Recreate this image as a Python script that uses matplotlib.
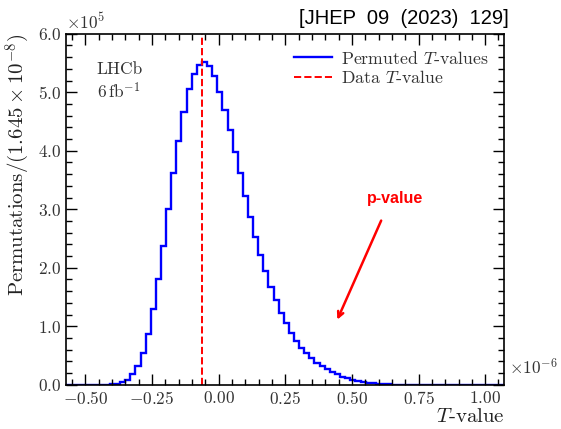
import numpy as np
import matplotlib
matplotlib.use("Agg")
import matplotlib.pyplot as plt
from matplotlib.ticker import MultipleLocator, FuncFormatter

plt.rcParams['font.family'] = 'serif'
plt.rcParams['font.serif'] = ['cmr10']
plt.rcParams['mathtext.fontset'] = 'cm'
plt.rcParams['axes.formatter.use_mathtext'] = True

# T-value histogram, x in units of 1e-6, counts in units of 1e5
bin_width = 0.0192
first_edge = -0.5812
counts_e5 = [0, 0, 0, 0, 0, 0, 0, 0,
             0.002, 0.006, 0.015,
             0.04, 0.09, 0.18, 0.33, 0.54, 0.87, 1.29, 1.80, 2.38, 3.00,
             3.62, 4.17, 4.66, 5.06, 5.32, 5.47, 5.52, 5.44, 5.27, 5.01,
             4.70, 4.36, 3.98, 3.62, 3.23, 2.87, 2.53, 2.22, 1.95, 1.68,
             1.45, 1.23, 1.05, 0.89, 0.75, 0.63, 0.54, 0.45, 0.38, 0.32,
             0.27, 0.22, 0.18, 0.14, 0.11, 0.085, 0.063, 0.046, 0.033, 0.024,
             0.017, 0.012, 0.008, 0.005, 0.003, 0.002, 0.001, 0.001,
             0, 0, 0, 0, 0, 0, 0, 0, 0, 0, 0, 0, 0, 0, 0, 0, 0, 0]
data_t = -0.0625

edges = first_edge + bin_width * np.arange(len(counts_e5) + 1)

fig = plt.figure(figsize=(5.61, 4.29), dpi=100)
ax = fig.add_axes([0.1176, 0.103, 0.7814, 0.8184])

ax.stairs(counts_e5, edges, color='blue', linewidth=1.7, label=r'Permuted $T$-values')
ax.axvline(data_t, color='red', linestyle='--', linewidth=1.4, label=r'Data $T$-value')

ax.set_xlim(-0.573, 1.072)
ax.set_ylim(0, 6.0)

ax.xaxis.set_major_locator(MultipleLocator(0.25))
ax.xaxis.set_minor_locator(MultipleLocator(0.05))
ax.yaxis.set_major_locator(MultipleLocator(1.0))
ax.yaxis.set_minor_locator(MultipleLocator(0.2))
ax.xaxis.set_major_formatter(FuncFormatter(lambda v, p: r'$%.2f$' % v))
ax.yaxis.set_major_formatter(FuncFormatter(lambda v, p: r'$%.1f$' % v))
ax.tick_params(which='both', direction='in', top=True, right=True, labelsize=12.5,
               labelcolor='#333333')
ax.tick_params(which='major', length=8, width=1)
ax.tick_params(which='minor', length=4, width=1)
for s in ax.spines.values():
    s.set_linewidth(1.2)

ax.set_xlabel(r'$T$-value', fontsize=15, loc='right', labelpad=1, color='#222222')
ax.set_ylabel(r'Permutations$/(1.645\times10^{-8})$', fontsize=15, loc='top', labelpad=4,
              color='#222222')

# offset labels
ax.text(0.0, 1.005, r'$\times10^{5}$', transform=ax.transAxes, fontsize=12.5, ha='left',
        va='bottom', color='#333333')
ax.text(1.01, 0.02, r'$\times10^{-6}$', transform=ax.transAxes, fontsize=12.5, ha='left',
        va='bottom', color='#333333')

ax.text(0.07, 0.92, 'LHCb', transform=ax.transAxes, fontsize=12.5, va='top', color='#333333')
ax.text(0.07, 0.865, r'$6\,\mathrm{fb}^{-1}$', transform=ax.transAxes, fontsize=12.5,
        va='top', color='#333333')

ax.annotate('', xy=(0.441, 1.07), xytext=(0.614, 2.85),
            arrowprops=dict(arrowstyle='->', color='red', lw=1.8))
ax.text(0.662, 3.19, 'p-value', color='red', fontsize=11.5, fontweight='bold',
        family='Liberation Sans', ha='center', va='center')

leg = ax.legend(loc='upper right', fontsize=12.8, frameon=False, handlelength=2.1,
                borderaxespad=0.5, labelspacing=0.15, handletextpad=0.5)
for t in leg.get_texts():
    t.set_color('#333333')

fig.text(0.906, 0.958, '[JHEP  09  (2023)  129]', family='Liberation Sans', fontsize=14.5,
         ha='right', va='center')

fig.savefig('out.png', dpi=100)
